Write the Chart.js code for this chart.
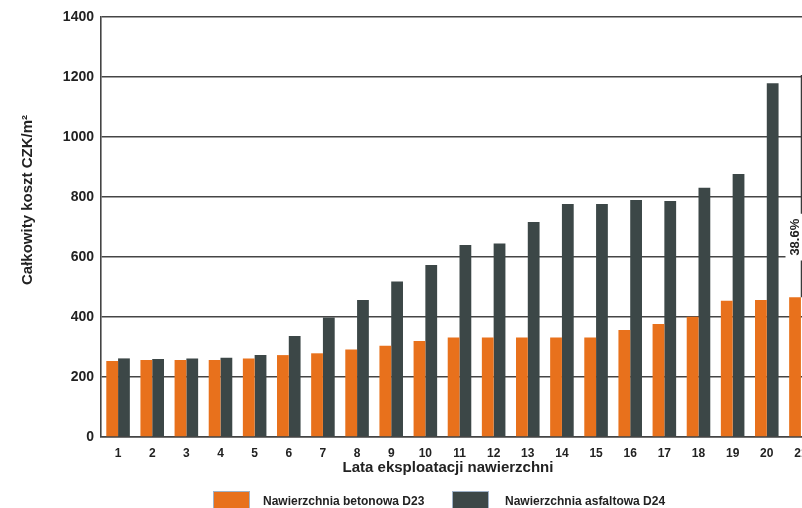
<!DOCTYPE html>
<html>
<head>
<meta charset="utf-8">
<script src="https://cdn.jsdelivr.net/npm/chart.js@4/dist/chart.umd.min.js"></script>
<style>
  html, body { margin: 0; padding: 0; background: #fff; overflow: hidden; width: 802px; height: 508px; }
  #wrap { position: absolute; left: 0; top: 0; width: 830px; height: 520px; }
  canvas { display: block; }
</style>
</head>
<body>
<div id="wrap"><canvas id="c" width="830" height="520" style="width:830px;height:520px"></canvas></div>
<script>
// Years of pavement service
const years = ['1','2','3','4','5','6','7','8','9','10','11','12','13','14','15','16','17','18','19','20','21'];

// Total cost, CZK per m², concrete pavement D23
const concreteD23 = [253, 257, 257, 257, 262, 273, 279, 292, 304, 320, 332, 332, 332, 332, 332, 357, 377, 401, 454, 457, 466];

// Total cost, CZK per m², asphalt pavement D24 (years 1–20)
const asphaltD24 = [262, 260, 262, 264, 273, 337, 398, 457, 518, 573, 640, 645, 717, 777, 777, 790, 787, 831, 877, 1179];

// Asphalt cost in year 21, used for the concrete/asphalt ratio marker
const asphaltD24Year21 = 1207;

// Value axis ticks
const yTicks = [0, 200, 400, 600, 800, 1000, 1200, 1400];

const seriesNames = ['Nawierzchnia betonowa D23', 'Nawierzchnia asfaltowa D24'];
const seriesColors = ['#E8711C', '#3C4747'];
const xTitle = 'Lata eksploatacji nawierzchni';
const yTitle = 'Całkowity koszt CZK/m²';

const FONT = '"Liberation Sans", Arial, Helvetica, sans-serif';
const TEXT = '#222';

const overlay = {
  id: 'overlay',
  afterDatasetsDraw(chart) {
    // Ratio marker between the two surfaces in the last year
    const { ctx, scales: { y } } = chart;
    const i = years.length - 1;
    const bar = chart.getDatasetMeta(0).data[i];
    if (!bar) return;
    const lx = Math.round(bar.x + bar.width / 2) + 0.5;
    const yTop = y.getPixelForValue(asphaltD24Year21);
    const yBot = y.getPixelForValue(concreteD23[i]);
    const label = (concreteD23[i] / asphaltD24Year21 * 100).toFixed(1) + '%';
    const cy = yBot - 0.27 * (yBot - yTop);
    ctx.save();
    ctx.font = 'bold 13px ' + FONT;
    const tw = ctx.measureText(label).width;
    ctx.fillStyle = '#fff';
    ctx.fillRect(lx - 16, cy - tw / 2 - 4, 20, tw + 8);
    ctx.strokeStyle = '#3a3a3a';
    ctx.lineWidth = 1.5;
    ctx.beginPath();
    ctx.moveTo(lx, yTop);
    ctx.lineTo(lx, cy - tw / 2 - 5);
    ctx.moveTo(lx, cy + tw / 2 + 5);
    ctx.lineTo(lx, yBot);
    ctx.stroke();
    ctx.translate(lx - 6, cy);
    ctx.rotate(-Math.PI / 2);
    ctx.fillStyle = TEXT;
    ctx.textAlign = 'center';
    ctx.textBaseline = 'middle';
    ctx.fillText(label, 0, 0);
    ctx.restore();
  },
  afterDraw(chart) {
    const { ctx } = chart;
    ctx.save();
    ctx.fillStyle = TEXT;
    ctx.textAlign = 'center';
    ctx.textBaseline = 'middle';

    // Axis titles
    ctx.font = 'bold 15px ' + FONT;
    ctx.fillText(xTitle, 448, 468);
    ctx.save();
    ctx.translate(28, 200);
    ctx.rotate(-Math.PI / 2);
    ctx.font = 'bold 15px ' + FONT;
    ctx.fillText(yTitle, 0, 0);
    ctx.restore();

    // Legend
    const items = [{ bx: 213, tx: 263 }, { bx: 452, tx: 505 }];
    ctx.font = 'bold 12px ' + FONT;
    ctx.textAlign = 'left';
    chart.data.datasets.forEach((ds, k) => {
      const it = items[k];
      ctx.fillStyle = ds.backgroundColor;
      ctx.fillRect(it.bx, 491, 37, 19);
      ctx.strokeStyle = '#9fb2c8';
      ctx.lineWidth = 1;
      ctx.strokeRect(it.bx + 0.5, 491.5, 36, 18);
      ctx.fillStyle = TEXT;
      ctx.fillText(ds.label, it.tx, 502);
    });
    ctx.restore();
  }
};

new Chart(document.getElementById('c'), {
  type: 'bar',
  data: {
    labels: years,
    datasets: [
      { label: seriesNames[0], data: concreteD23, backgroundColor: seriesColors[0], categoryPercentage: 0.69, barPercentage: 1 },
      { label: seriesNames[1], data: asphaltD24, backgroundColor: seriesColors[1], categoryPercentage: 0.69, barPercentage: 1 }
    ]
  },
  options: {
    responsive: false,
    animation: false,
    devicePixelRatio: 1,
    layout: { padding: { left: 0, top: 17, right: 12, bottom: 0 } },
    plugins: { legend: { display: false }, tooltip: { enabled: false } },
    scales: {
      x: {
        grid: { display: false, drawTicks: false },
        border: { display: true, color: '#444', width: 1.5 },
        ticks: { color: TEXT, font: { family: FONT, weight: 'bold', size: 12 }, padding: 9, maxRotation: 0, autoSkip: false },
        afterFit(s) { s.height = 83; }
      },
      y: {
        min: 0,
        max: 1400,
        grid: { color: '#454545', lineWidth: 1.6, drawTicks: false },
        border: { display: true, color: '#444', width: 1.6 },
        ticks: {
          color: TEXT,
          font: { family: FONT, weight: 'bold', size: 14 },
          padding: 7,
          callback: v => String(v)
        },
        afterBuildTicks(s) { s.ticks = yTicks.map(v => ({ value: v })); },
        afterFit(s) { s.width = 101; }
      }
    }
  },
  plugins: [overlay]
});
</script>
</body>
</html>
